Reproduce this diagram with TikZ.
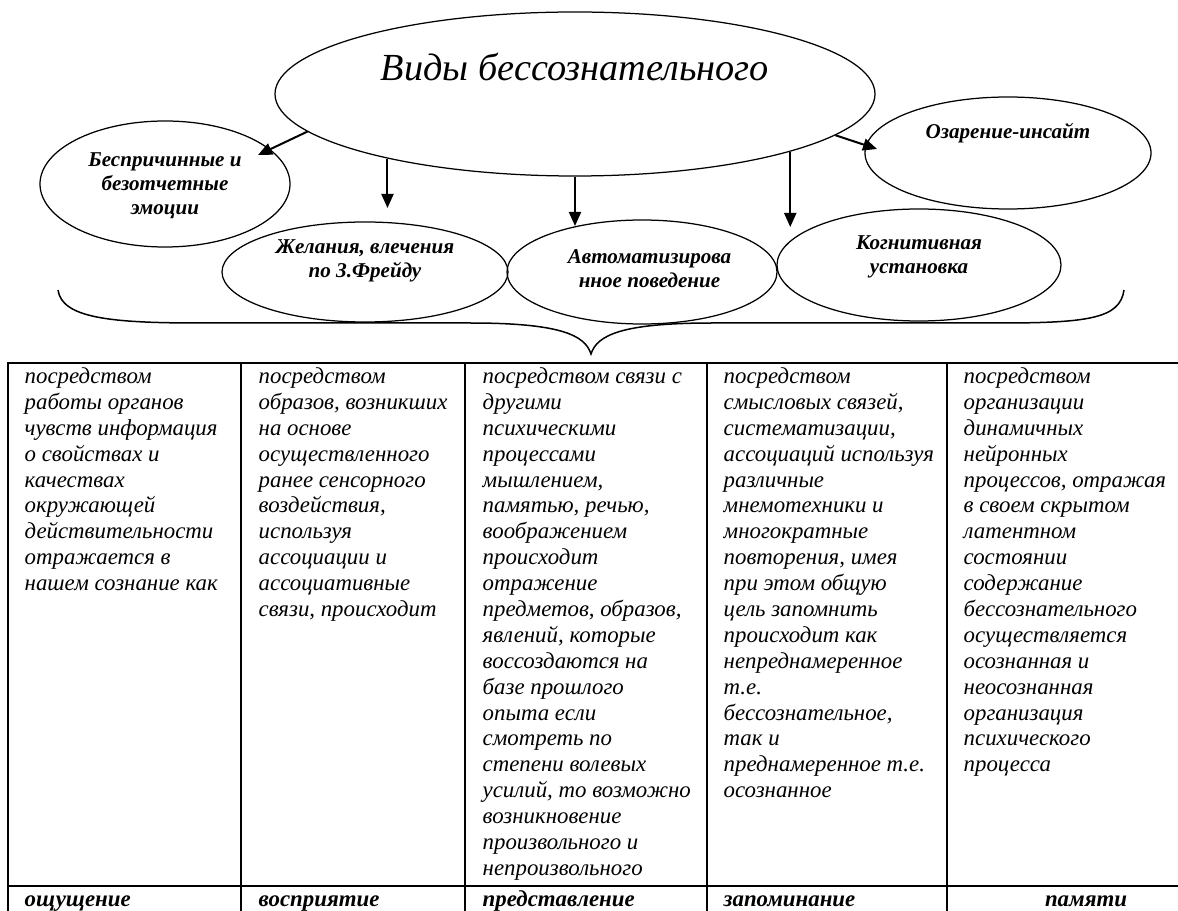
\documentclass[tikz,border=0pt]{standalone}
\usepackage{fontspec}
\setmainfont{Liberation Serif}
\usetikzlibrary{shapes.geometric,arrows.meta}

\begin{document}
\begin{tikzpicture}[x=0.2mm, y=-0.2mm, thick,
  vid node/.style={ellipse, draw, line width=0.25mm, inner sep=0pt},
  vid text/.style={font=\bfseries\itshape\fontsize{12}{13.7}\selectfont, align=center, inner sep=0pt},
  cell text/.style={anchor=north west, inner sep=0pt, align=left, font=\itshape\fontsize{13}{14.73}\selectfont},
  foot text/.style={anchor=base west, inner sep=0pt, font=\bfseries\itshape\fontsize{13}{14.73}\selectfont},
  arr/.style={-{Triangle[length=2.8mm,width=2.4mm]}, line width=0.4mm}]

\useasboundingbox (0,0) rectangle (1178,911);

% ellipses
\node[vid node, minimum width=120mm, minimum height=32.8mm,
  label={[font=\itshape\fontsize{21.8}{25}\selectfont, inner sep=0pt, yshift=5.4mm]center:Виды бессознательного}] (1) at (575,94) {};
\node[vid node, minimum width=50mm, minimum height=25.2mm,
  label={[vid text, yshift=-0.3mm]center:Беспричинные и\\безотчетные\\эмоции}] (2) at (165,184) {};
\node[vid node, minimum width=57.2mm, minimum height=20mm,
  label={[vid text, yshift=2.3mm]center:Желания, влечения\\по З.Фрейду}] (3) at (365,272) {};
\node[vid node, minimum width=54mm, minimum height=20.8mm,
  label={[vid text, xshift=1.5mm, yshift=0.7mm]center:Автоматизирова\\нное поведение}] (4) at (642,272) {};
\node[vid node, minimum width=56.8mm, minimum height=22.4mm,
  label={[vid text, yshift=1.7mm]center:Когнитивная\\установка}] (5) at (919,265) {};
\node[vid node, minimum width=57.2mm, minimum height=22.4mm,
  label={[vid text, yshift=4mm]center:Озарение-инсайт}] (6) at (1008,153) {};

% arrow ends
\coordinate (e1) at (258,155);
\coordinate (e2) at (392,208);
\coordinate (e3) at (574,226);
\coordinate (e4) at (790,227);
\coordinate (e5) at (877,149);

\draw[arr] (1.188.2) -- (e1);
\draw[arr] (1.199.6) -- (1.199.6 |- e2);
\draw[arr] (1.south) -- (1.south |- e3);
\draw[arr] (1.345.4) -- (1.345.4 |- e4);
\draw[arr] (1.351.8) -- (e5);

% brace
\draw[line width=0.3mm] (58,290) .. controls (62,318) and (110,323) .. (200,323) -- (470,323)
  .. controls (560,323) and (585,335) .. (591,354)
  .. controls (597,335) and (622,323) .. (712,323) -- (1000,323)
  .. controls (1090,323) and (1120,318) .. (1124,290);

% table
\draw[line width=0.3mm] (8,911) -- (8,363) -- (1178,363);
\draw[line width=0.3mm] (8,886) -- (1178,886);
\foreach \x in {241,465,707,947}
  \draw[line width=0.3mm] (\x,363) -- (\x,911);

\node[cell text] (c1) at (24,367) {посредством\\работы органов\\чувств информация\\о свойствах и\\качествах\\окружающей\\действительности\\отражается в\\нашем сознание как};
\node[cell text] (c2) at (258,367) {посредством\\образов, возникших\\на основе\\осуществленного\\ранее сенсорного\\воздействия,\\используя\\ассоциации и\\ассоциативные\\связи, происходит};
\node[cell text] (c3) at (482,367) {посредством связи с\\другими\\психическими\\процессами\\мышлением,\\памятью, речью,\\воображением\\происходит\\отражение\\предметов, образов,\\явлений, которые\\воссоздаются на\\базе прошлого\\опыта если\\смотреть по\\степени волевых\\усилий, то возможно\\возникновение\\произвольного и\\непроизвольного};
\node[cell text] (c4) at (723,367) {посредством\\смысловых связей,\\систематизации,\\ассоциаций используя\\различные\\мнемотехники и\\многократные\\повторения, имея\\при этом общую\\цель запомнить\\происходит как\\непреднамеренное\\т.е.\\бессознательное,\\так и\\преднамеренное т.е.\\осознанное};
\node[cell text] (c5) at (963,367) {посредством\\организации\\динамичных\\нейронных\\процессов, отражая\\в своем скрытом\\латентном\\состоянии\\содержание\\бессознательного\\осуществляется\\осознанная и\\неосознанная\\организация\\психического\\процесса};

\node[foot text] (f1) at (24,906) {ощущение};
\node[foot text] (f2) at (258,906) {восприятие};
\node[foot text] (f3) at (482,906) {представление};
\node[foot text] (f4) at (723,906) {запоминание};
\node[foot text, anchor=base] (f5) at (1086,906) {памяти};

\end{tikzpicture}
\end{document}
